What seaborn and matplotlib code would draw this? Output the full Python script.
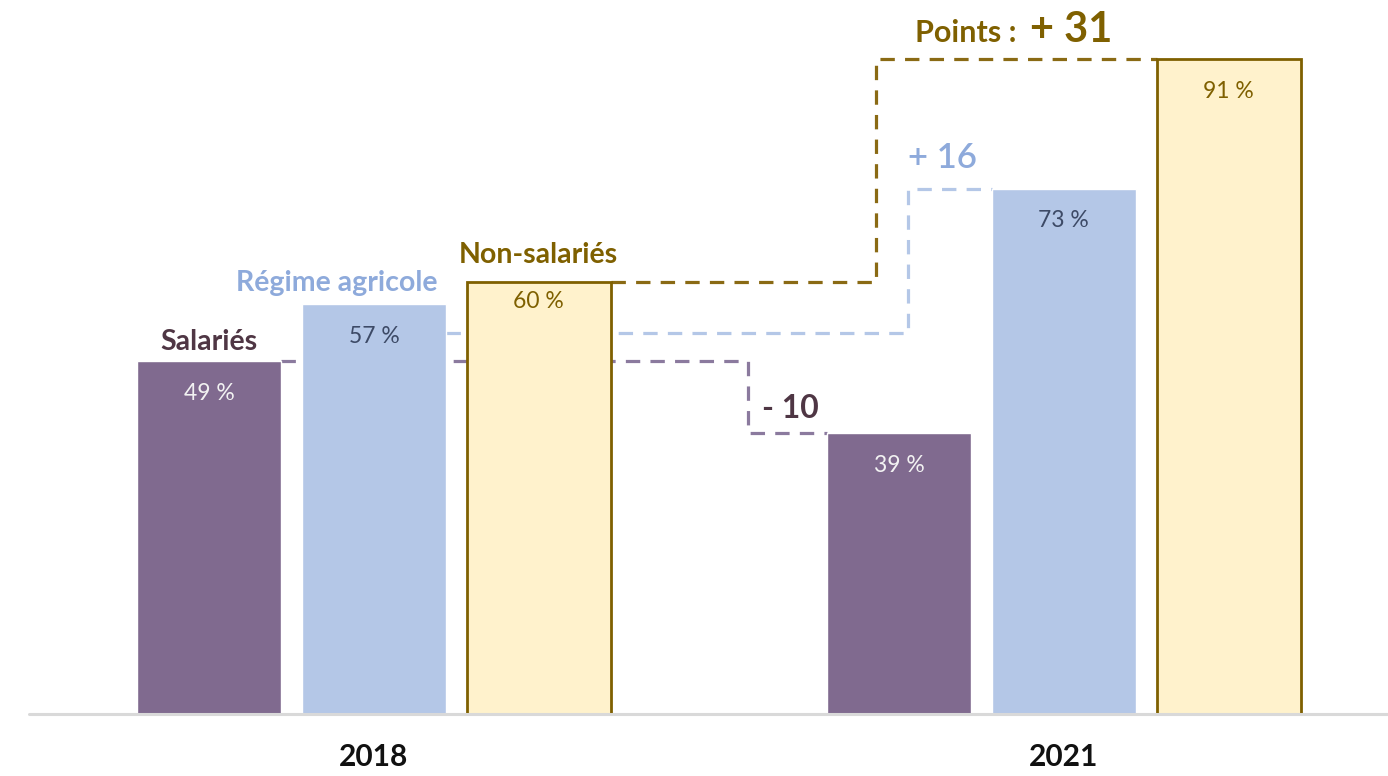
import pandas as pd
import matplotlib.pyplot as plt
import seaborn as sns

# data
years = ["2018", "2021"]
groups = ["Salariés", "Régime agricole", "Non-salariés"]
values_2018 = [49, 57, 60]
values_2021 = [39, 73, 91]
deltas = ["- 10", "+ 16", "+ 31"]
# level where each dashed connector leaves the 2018 bar (as drawn in the source)
connector_start = [49, 53, 60]

bar_colors = ["#806a8f", "#b4c7e7", "#fff2cc"]
dash_colors = ["#8b7a9e", "#b4c7e7", "#8a6a14"]
label_colors = ["#4f3644", "#8eaadb", "#7f6000"]
value_colors = ["#f2f2f2", "#3d4a66", "#7f6000"]

df = pd.DataFrame({
    "year": [y for y in years for _ in groups],
    "group": groups * 2,
    "value": values_2018 + values_2021,
})

sns.set_style("white")
plt.rcParams["font.family"] = ["Lato", "DejaVu Sans"]

fig = plt.figure(figsize=(13.88, 7.76), dpi=100)
ax = fig.add_axes([0, 62 / 776, 1, 714 / 776])

sns.barplot(
    data=df, x="year", y="value", hue="group", hue_order=groups,
    palette=bar_colors, width=0.717, gap=0.127, legend=False,
    saturation=1, ax=ax, zorder=2
)

# outline for the non-salariés bars
for p in ax.containers[2]:
    p.set_edgecolor("#7f6000")
    p.set_linewidth(2)

ax.set_xlim(-0.542, 1.470)
ax.set_ylim(0, 99.2)
for s in ax.spines.values():
    s.set_visible(False)
ax.set_yticks([])
ax.set_xlabel("")
ax.set_ylabel("")
ax.tick_params(axis="x", length=0, pad=21)
for t in ax.get_xticklabels():
    t.set_fontsize(21.5)
    t.set_fontweight("bold")
    t.set_color("#111111")
ax.axhline(0, xmin=29 / 1388, xmax=1, color="#d9d9d9", lw=2.2, zorder=3, clip_on=False)

# dashed step connectors between 2018 and 2021
turn_x = [0.542, 0.774, 0.728]
for i, cont in enumerate(ax.containers):
    b0, b1 = cont[0], cont[1]
    x0 = b0.get_x() + b0.get_width()
    x1 = b1.get_x()
    y0 = connector_start[i]
    y1 = b1.get_height()
    ax.plot([x0, turn_x[i], turn_x[i], x1], [y0, y0, y1, y1],
            color=dash_colors[i], lw=2.3, ls=(0, (4.5, 3.2)), zorder=1)

# value labels inside the bars
for i, cont in enumerate(ax.containers):
    for b in cont:
        h = b.get_height()
        off = 2.7 if h == 60 else 4.5
        ax.text(b.get_x() + b.get_width() / 2, h - off, f"{h:.0f} %",
                ha="center", va="center", fontsize=16.5, color=value_colors[i], zorder=4)

# series names above the 2018 bars
name_dx = [0.0, -0.054, 0.0]
name_dy = [2.7, 2.9, 3.8]
for i, cont in enumerate(ax.containers):
    b = cont[0]
    ax.text(b.get_x() + b.get_width() / 2 + name_dx[i], b.get_height() + name_dy[i],
            groups[i], ha="center", va="center", fontsize=20.5, fontweight="bold",
            color=label_colors[i])

# change annotations
ax.text(0.562, 42.5, deltas[0], ha="left", va="center", fontsize=23,
        fontweight="bold", color=label_colors[0])
ax.text(0.774, 77.2, deltas[1], ha="left", va="center", fontsize=25,
        fontweight="semibold", color=label_colors[1])
ax.text(0.784, 93.3, "Points :", ha="left", va="baseline", fontsize=22,
        fontweight="bold", color=label_colors[2])
ax.text(0.951, 93.3, deltas[2], ha="left", va="baseline", fontsize=30,
        fontweight="bold", color=label_colors[2])

fig.savefig("out.png", dpi=100)
